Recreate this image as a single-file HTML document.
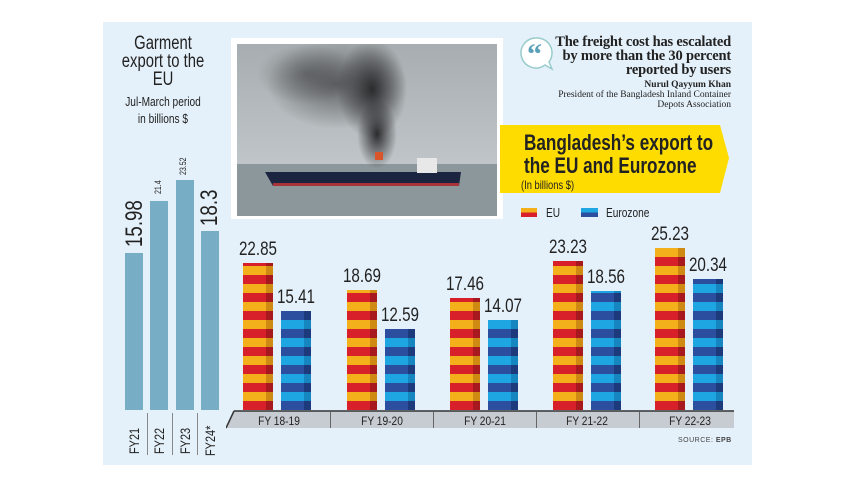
<!DOCTYPE html>
<html><head><meta charset="utf-8"><style>
*{margin:0;padding:0;box-sizing:border-box}
body{width:857px;height:482px;background:#fff;position:relative;overflow:hidden;font-family:"Liberation Sans",sans-serif;color:#222}
.a{position:absolute}
.n{transform:scaleX(.78);transform-origin:left top;white-space:nowrap}
.nc{transform:scaleX(.78);transform-origin:center top;white-space:nowrap}
.panel{left:103px;top:22px;width:649px;height:443px;background:#e5f1fa}
.lb{background:#77aec6;width:18px}
.rot{transform:rotate(-90deg) scaleX(.78);transform-origin:left top;white-space:nowrap}
.eu{width:30px;background:repeating-linear-gradient(to top,#d8202a 0 9px,#f4b01b 9px 18px)}
.eu:after{content:"";position:absolute;right:0;top:0;bottom:0;width:7px;background:repeating-linear-gradient(to top,#a8181f 0 9px,#cf8a14 9px 18px)}
.ez{width:30px;background:repeating-linear-gradient(to top,#2b4f9e 0 9px,#1ea6e2 9px 18px)}
.ez:after{content:"";position:absolute;right:0;top:0;bottom:0;width:7px;background:repeating-linear-gradient(to top,#1d3a7c 0 9px,#1686c0 9px 18px)}
.val{font-size:19px;width:60px;text-align:center;transform:scaleX(.8);white-space:nowrap}
.gl{font-size:12px;width:100px;text-align:center;top:414px;transform:scaleX(.85)}
.sep{width:1px;background:#666;top:412px;height:16px}
.serif{font-family:"Liberation Serif",serif}
</style></head><body>
<div class="a panel"></div>
<div class="a nc" style="left:98px;top:35px;width:130px;text-align:center;font-size:19px;line-height:18px">Garment<br>export to the<br>EU</div>
<div class="a nc" style="left:103px;top:93px;width:120px;text-align:center;font-size:13px;line-height:17px">Jul-March period<br>in billions $</div>
<div class="a lb" style="left:125px;top:253px;height:157px"></div>
<div class="a lb" style="left:150px;top:201px;height:209px"></div>
<div class="a lb" style="left:176px;top:180px;height:230px"></div>
<div class="a lb" style="left:201px;top:231px;height:179px"></div>
<div class="a rot" style="left:121px;top:247px;font-size:24px">15.98</div>
<div class="a rot" style="left:153px;top:194px;font-size:9px">21.4</div>
<div class="a rot" style="left:178px;top:175px;font-size:9px">23.52</div>
<div class="a rot" style="left:196px;top:226px;font-size:24px">18.3</div>
<div class="a rot" style="left:126px;top:454px;font-size:14px">FY21</div>
<div class="a rot" style="left:151px;top:454px;font-size:14px">FY22</div>
<div class="a rot" style="left:177px;top:454px;font-size:14px">FY23</div>
<div class="a rot" style="left:202px;top:456px;font-size:14px">FY24*</div>
<div class="a" style="left:147px;top:413px;width:1px;height:42px;background:#888"></div>
<div class="a" style="left:172px;top:413px;width:1px;height:42px;background:#888"></div>
<div class="a" style="left:197px;top:413px;width:1px;height:42px;background:#888"></div>
<!-- photo -->
<div class="a" style="left:231px;top:38px;width:272px;height:181px;background:#fff"></div>
<svg class="a" style="left:237px;top:44px" width="260" height="172">
<defs><linearGradient id="sk" x1="0" y1="0" x2="0" y2="1"><stop offset="0" stop-color="#a7adb0"/><stop offset="1" stop-color="#c9cfd2"/></linearGradient>
<radialGradient id="sm" cx=".5" cy=".5" r=".5"><stop offset="0" stop-color="#2c2c2e"/><stop offset="1" stop-color="#2c2c2e" stop-opacity="0"/></radialGradient></defs>
<rect width="260" height="172" fill="url(#sk)"/>
<rect y="120" width="260" height="52" fill="#8c979c"/>
<ellipse cx="100" cy="40" rx="70" ry="45" fill="url(#sm)" opacity=".6"/>
<ellipse cx="135" cy="45" rx="35" ry="50" fill="url(#sm)"/>
<ellipse cx="140" cy="90" rx="20" ry="35" fill="url(#sm)"/>
<ellipse cx="70" cy="30" rx="50" ry="30" fill="url(#sm)" opacity=".4"/>
<polygon points="28,128 36,142 222,142 224,128" fill="#1c2540"/>
<rect x="36" y="139" width="186" height="3" fill="#a8343a"/>
<rect x="180" y="114" width="20" height="15" fill="#e8e8e8"/>
<rect x="138" y="108" width="8" height="8" fill="#d9562a"/>
</svg>
<!-- quote -->
<svg class="a" style="left:519px;top:36px" width="36" height="36"><path d="M17 2a15 15 0 1 0 9 27l7 4-3-7A15 15 0 0 0 17 2z" fill="#fff" stroke="#9cc" stroke-width="1.5"/><text x="8" y="28" font-family="Liberation Serif" font-weight="bold" font-size="30" fill="#5aa0b8">“</text></svg>
<div class="a serif" style="right:126px;top:35px;text-align:right;font-weight:bold;font-size:14.5px;line-height:14px;letter-spacing:-.2px">The freight cost has escalated<br>by more than the 30 percent<br>reported by users</div>
<div class="a serif" style="right:126px;top:80px;text-align:right;font-size:9.5px;line-height:10px"><b>Nurul Qayyum Khan</b><br>President of the Bangladesh Inland Container<br>Depots Association</div>
<!-- banner -->
<svg class="a" style="left:500px;top:125px" width="230" height="70"><polygon points="0,0 220,0 229,33 220,68 0,68" fill="#fedc00"/></svg>
<div class="a n" style="left:524px;top:131px;font-size:22px;font-weight:bold;line-height:23px">Bangladesh’s export to<br>the EU and Eurozone</div>
<div class="a n" style="left:521px;top:178px;font-size:12px">(In billions $)</div>
<div class="a" style="left:521px;top:208px;width:16px;height:9px;background:linear-gradient(to bottom,#f4b01b 50%,#d8202a 50%)"></div>
<div class="a n" style="left:546px;top:205px;font-size:13px">EU</div>
<div class="a" style="left:581px;top:208px;width:17px;height:9px;background:linear-gradient(to bottom,#1ea6e2 50%,#2b4f9e 50%)"></div>
<div class="a n" style="left:606px;top:205px;font-size:13px">Eurozone</div>
<!-- platform -->
<svg class="a" style="left:226px;top:409px" width="510" height="22"><polygon points="8,2 508,2 508,19 0,19" fill="#c7ccd2"/><line x1="8" y1="2" x2="508" y2="2" stroke="#333" stroke-width="1.5"/><line x1="8" y1="2" x2="0" y2="19" stroke="#333" stroke-width="1.5"/></svg>
<div class="a sep" style="left:330px"></div><div class="a sep" style="left:433px"></div><div class="a sep" style="left:536px"></div><div class="a sep" style="left:639px"></div>
<div class="a gl" style="left:229px">FY 18-19</div>
<div class="a gl" style="left:332px">FY 19-20</div>
<div class="a gl" style="left:435px">FY 20-21</div>
<div class="a gl" style="left:537px">FY 21-22</div>
<div class="a gl" style="left:640px">FY 22-23</div>
<div class="a" style="left:678px;top:437px;font-size:7px;letter-spacing:.5px;color:#444">SOURCE: <b>EPB</b></div>
<!-- bars -->
<div class="a eu" style="left:243px;top:263px;height:147px"></div>
<div class="a ez" style="left:281px;top:311px;height:99px"></div>
<div class="a eu" style="left:347px;top:290px;height:120px"></div>
<div class="a ez" style="left:385px;top:329px;height:81px"></div>
<div class="a eu" style="left:450px;top:298px;height:112px"></div>
<div class="a ez" style="left:488px;top:320px;height:90px"></div>
<div class="a eu" style="left:553px;top:261px;height:149px"></div>
<div class="a ez" style="left:591px;top:291px;height:119px"></div>
<div class="a eu" style="left:655px;top:248px;height:162px"></div>
<div class="a ez" style="left:693px;top:279px;height:131px"></div>
<div class="a val" style="left:228px;top:239px">22.85</div>
<div class="a val" style="left:266px;top:287px">15.41</div>
<div class="a val" style="left:332px;top:266px">18.69</div>
<div class="a val" style="left:370px;top:305px">12.59</div>
<div class="a val" style="left:435px;top:274px">17.46</div>
<div class="a val" style="left:473px;top:296px">14.07</div>
<div class="a val" style="left:538px;top:237px">23.23</div>
<div class="a val" style="left:576px;top:267px">18.56</div>
<div class="a val" style="left:640px;top:224px">25.23</div>
<div class="a val" style="left:678px;top:255px">20.34</div>
</body></html>
